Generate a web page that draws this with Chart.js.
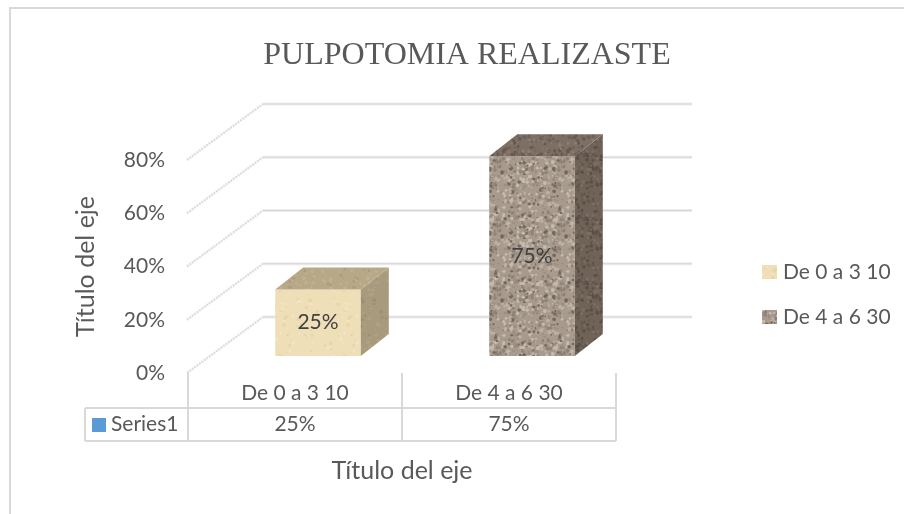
<!DOCTYPE html>
<html>
<head>
<meta charset="utf-8">
<script src="https://cdn.jsdelivr.net/npm/chart.js@4/dist/chart.umd.min.js"></script>
<style>
  html, body { margin: 0; padding: 0; background: #fff; }
  #wrap { width: 904px; height: 514px; }
</style>
</head>
<body>
<div id="wrap"><canvas id="chart" width="904" height="514"></canvas></div>
<script>
const categories = ['De 0 a 3 10', 'De 4 a 6 30'];
const seriesName = 'Series1';
const seriesValues = [25, 75];
const tickValues = [0, 20, 40, 60, 80];
const titleText = 'PULPOTOMIA REALIZASTE';
const axisTitle = 'Título del eje';

const fontName = 'Lato, "Liberation Sans", sans-serif';
const textColor = '#595959';
const lineColor = '#d9d9d9';

// depth of the 3d box: back wall offset, bar front offset, bar depth
const wall = { dx: 75, dy: -56 };
const barShift = { dx: 23, dy: -17 };
const barDepth = { dx: 28, dy: -22 };

// speckled texture for the bars
function speckle(base, spots, count) {
    const tile = document.createElement('canvas');
    tile.width = 64;
    tile.height = 64;
    const c = tile.getContext('2d');
    c.fillStyle = base;
    c.fillRect(0, 0, 64, 64);
    let seed = 7;
    const next = () => {
        seed = (seed * 16807) % 2147483647;
        return seed / 2147483647;
    };
    for (let i = 0; i < count; i++) {
        c.fillStyle = spots[Math.floor(next() * spots.length)];
        c.beginPath();
        c.arc(next() * 64, next() * 64, 0.6 + next() * 1.4, 0, Math.PI * 2);
        c.fill();
    }
    return c.createPattern(tile, 'repeat');
}

const ctx0 = document.getElementById('chart').getContext('2d');
const faces = [
    {
        front: speckle('#efdfb8', ['#f3e6c6', '#e8d5a8', '#f0e0b8'], 120),
        side: speckle('#a89a7c', ['#9d8f72', '#b0a284'], 120),
        top: speckle('#b7a887', ['#ab9c7c', '#c0b192'], 120)
    },
    {
        front: speckle('#a89b8e', ['#bdb1a4', '#8f8276', '#75695e', '#c6bbaf', '#9c8f82'], 420),
        side: speckle('#6f6358', ['#62574d', '#7a6e63', '#5a4f46'], 300),
        top: speckle('#7d6f64', ['#6e6157', '#8b7d71', '#665a50'], 300)
    }
];

const box3d = {
    id: 'box3d',
    afterLayout(chart) {
        // title is centred over the whole picture, not just the plot
        chart.titleBlock.left = 30;
        chart.titleBlock.right = 904;
    },
    beforeDatasetsDraw(chart) {
        const { ctx, scales: { x, y } } = chart;
        // back wall gridlines and the diagonals on the side wall
        tickValues.forEach((v) => {
            const py = y.getPixelForValue(v);
            ctx.save();
            ctx.strokeStyle = '#ececec';
            ctx.lineWidth = 3;
            ctx.setLineDash([2, 1]);
            ctx.beginPath();
            ctx.moveTo(x.left - 1, py);
            ctx.lineTo(x.left + wall.dx, py + wall.dy);
            ctx.stroke();
            ctx.strokeStyle = '#cfcfcf';
            ctx.lineWidth = 1;
            ctx.stroke();
            ctx.setLineDash([]);
            ctx.strokeStyle = '#ececec';
            ctx.lineWidth = 3;
            ctx.beginPath();
            ctx.moveTo(x.left + wall.dx, py + wall.dy);
            ctx.lineTo(692, py + wall.dy);
            ctx.stroke();
            ctx.strokeStyle = '#d6d6d6';
            ctx.lineWidth = 1;
            ctx.stroke();
            ctx.restore();
        });
        ctx.save();
        ctx.translate(barShift.dx, barShift.dy);
    },
    afterDatasetsDraw(chart) {
        const { ctx } = chart;
        const bars = chart.getDatasetMeta(0).data;
        bars.forEach((bar, i) => {
            const l = bar.x - bar.width / 2;
            const r = bar.x + bar.width / 2;
            const d = barDepth;
            ctx.fillStyle = faces[i].side;
            ctx.beginPath();
            ctx.moveTo(r, bar.y);
            ctx.lineTo(r + d.dx, bar.y + d.dy);
            ctx.lineTo(r + d.dx, bar.base + d.dy);
            ctx.lineTo(r, bar.base);
            ctx.closePath();
            ctx.fill();
            ctx.fillStyle = faces[i].top;
            ctx.beginPath();
            ctx.moveTo(l, bar.y);
            ctx.lineTo(l + d.dx, bar.y + d.dy);
            ctx.lineTo(r + d.dx, bar.y + d.dy);
            ctx.lineTo(r, bar.y);
            ctx.closePath();
            ctx.fill();
            ctx.fillStyle = '#404040';
            ctx.font = '21px ' + fontName;
            ctx.textAlign = 'center';
            ctx.textBaseline = 'middle';
            ctx.fillText(seriesValues[i] + '%', bar.x, (bar.y + bar.base) / 2);
        });
        ctx.restore();
    },
    afterDraw(chart) {
        const { ctx, scales: { x } } = chart;
        const colW = (x.right - x.left) / categories.length;
        const rowTop = 408;
        const rowBottom = 441;
        const headLeft = 85;

        // data table under the x axis
        ctx.save();
        ctx.strokeStyle = lineColor;
        ctx.lineWidth = 2;
        ctx.beginPath();
        ctx.moveTo(headLeft, rowTop);
        ctx.lineTo(x.right, rowTop);
        ctx.moveTo(headLeft, rowBottom);
        ctx.lineTo(x.right, rowBottom);
        ctx.moveTo(headLeft, rowTop);
        ctx.lineTo(headLeft, rowBottom);
        for (let i = 0; i <= categories.length; i++) {
            ctx.moveTo(x.left + i * colW, x.top);
            ctx.lineTo(x.left + i * colW, rowBottom);
        }
        ctx.stroke();

        ctx.font = '21px ' + fontName;
        ctx.fillStyle = textColor;
        ctx.textBaseline = 'middle';
        ctx.textAlign = 'center';
        seriesValues.forEach((v, i) => {
            ctx.fillText(v + '%', x.getPixelForValue(i), (rowTop + rowBottom) / 2);
        });
        ctx.textAlign = 'left';
        ctx.fillText(seriesName, 111, (rowTop + rowBottom) / 2);
        ctx.fillStyle = '#5b9bd5';
        ctx.fillRect(92, 418, 14, 14);

        // legend
        categories.forEach((name, i) => {
            const ly = 272 + i * 45;
            ctx.fillStyle = faces[i].front;
            ctx.fillRect(762, ly - 7, 15, 14);
            ctx.fillStyle = textColor;
            ctx.fillText(name, 783, ly);
        });

        // chart outline
        ctx.strokeStyle = lineColor;
        ctx.lineWidth = 2;
        ctx.beginPath();
        ctx.moveTo(10, 514);
        ctx.lineTo(10, 8);
        ctx.lineTo(904, 8);
        ctx.stroke();
        ctx.restore();
    }
};

new Chart(ctx0, {
    type: 'bar',
    data: {
        labels: categories,
        datasets: [{
            label: seriesName,
            data: seriesValues,
            backgroundColor: faces.map((f) => f.front),
            barPercentage: 0.4,
            categoryPercentage: 1
        }]
    },
    plugins: [box3d],
    options: {
        responsive: false,
        animation: false,
        layout: { padding: { left: 30, right: 288, top: 0, bottom: 0 } },
        plugins: {
            legend: { display: false },
            tooltip: { enabled: false },
            title: {
                display: true,
                text: titleText,
                color: textColor,
                font: { family: '"Liberation Serif", serif', size: 32, weight: 'normal' },
                padding: { top: 36, bottom: 85.6 }
            }
        },
        scales: {
            y: {
                min: 0,
                max: 80,
                afterFit: (s) => { s.width = 158; },
                grid: { display: false, drawTicks: false },
                border: { display: false },
                ticks: {
                    stepSize: 20,
                    padding: 23,
                    color: textColor,
                    font: { family: fontName, size: 21 },
                    callback: (v) => v + '%'
                },
                title: {
                    display: true,
                    text: axisTitle,
                    color: textColor,
                    font: { family: fontName, size: 25 },
                    padding: { top: 41, bottom: 0 }
                }
            },
            x: {
                afterFit: (s) => { s.height = 141; },
                grid: { display: false, drawTicks: false },
                border: { display: false },
                ticks: {
                    padding: 8,
                    color: textColor,
                    font: { family: fontName, size: 21 }
                },
                title: {
                    display: true,
                    text: axisTitle,
                    color: textColor,
                    font: { family: fontName, size: 25 },
                    padding: { top: 0, bottom: 28 }
                }
            }
        }
    }
});
</script>
</body>
</html>
